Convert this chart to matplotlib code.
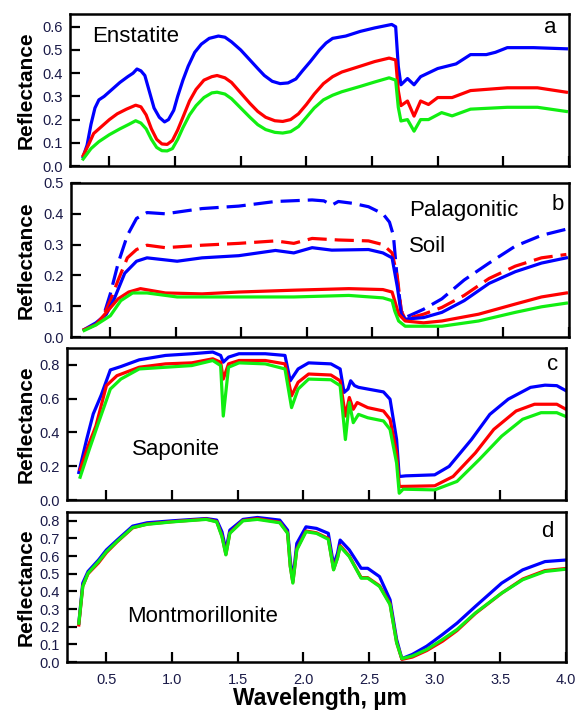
import numpy as np
import matplotlib.pyplot as plt

plt.rcParams['font.family'] = ['Liberation Sans', 'DejaVu Sans']

# ---- panel a: Enstatite ----
ens_blue_x = [0.30, 0.33, 0.36, 0.39, 0.42, 0.46, 0.52, 0.58, 0.64, 0.68, 0.71, 0.74, 0.77, 0.80, 0.84,
              0.88, 0.92, 0.95, 0.99, 1.02, 1.06, 1.10, 1.15, 1.20, 1.26, 1.33, 1.38, 1.43, 1.50, 1.57,
              1.63, 1.68, 1.74, 1.80, 1.86, 1.92, 1.97, 2.03, 2.10, 2.15, 2.20, 2.30, 2.41, 2.52, 2.65,
              2.68, 2.70, 2.72, 2.77, 2.82, 2.87, 3.00, 3.14, 3.25, 3.37, 3.44, 3.53, 3.73, 3.98]
ens_blue_y = [0.04, 0.09, 0.18, 0.25, 0.285, 0.30, 0.33, 0.36, 0.385, 0.40, 0.418, 0.41, 0.39, 0.33, 0.25,
              0.21, 0.19, 0.20, 0.24, 0.30, 0.37, 0.43, 0.49, 0.525, 0.55, 0.56, 0.555, 0.535, 0.50, 0.457,
              0.42, 0.39, 0.365, 0.355, 0.358, 0.375, 0.41, 0.45, 0.50, 0.53, 0.55, 0.56, 0.58, 0.595, 0.61,
              0.60, 0.43, 0.35, 0.377, 0.35, 0.385, 0.42, 0.44, 0.48, 0.48, 0.49, 0.51, 0.51, 0.505]
ens_red_x = [0.30, 0.34, 0.38, 0.44, 0.50, 0.56, 0.63, 0.70, 0.74, 0.78, 0.82, 0.86, 0.90, 0.94, 0.98,
             1.02, 1.06, 1.11, 1.16, 1.22, 1.28, 1.32, 1.38, 1.43, 1.50, 1.57, 1.63, 1.69, 1.76, 1.82,
             1.88, 1.94, 2.00, 2.06, 2.13, 2.20, 2.27, 2.41, 2.52, 2.63, 2.68, 2.70, 2.72, 2.77, 2.82,
             2.87, 2.93, 3.00, 3.11, 3.25, 3.53, 3.76, 3.98]
ens_red_y = [0.045, 0.09, 0.14, 0.17, 0.20, 0.225, 0.245, 0.262, 0.255, 0.22, 0.16, 0.115, 0.095, 0.093, 0.11,
             0.155, 0.21, 0.28, 0.33, 0.37, 0.385, 0.39, 0.38, 0.36, 0.315, 0.27, 0.235, 0.21, 0.195, 0.192,
             0.20, 0.225, 0.265, 0.31, 0.355, 0.385, 0.405, 0.43, 0.45, 0.465, 0.457, 0.325, 0.26, 0.28, 0.215,
             0.28, 0.265, 0.295, 0.295, 0.325, 0.337, 0.337, 0.318]
ens_green_x = [0.30, 0.36, 0.42, 0.50, 0.58, 0.65, 0.70, 0.74, 0.78, 0.82, 0.86, 0.90, 0.94, 0.98, 1.02,
               1.06, 1.11, 1.16, 1.22, 1.28, 1.32, 1.38, 1.43, 1.50, 1.57, 1.63, 1.69, 1.76, 1.82, 1.88,
               1.94, 2.00, 2.06, 2.13, 2.20, 2.27, 2.41, 2.52, 2.63, 2.68, 2.70, 2.72, 2.77, 2.82, 2.87,
               2.93, 3.03, 3.11, 3.25, 3.53, 3.76, 3.98]
ens_green_y = [0.03, 0.075, 0.105, 0.135, 0.16, 0.18, 0.195, 0.185, 0.16, 0.115, 0.08, 0.066, 0.065, 0.075, 0.115,
               0.165, 0.22, 0.26, 0.295, 0.315, 0.318, 0.31, 0.29, 0.25, 0.21, 0.178, 0.157, 0.145, 0.142, 0.148,
               0.17, 0.21, 0.25, 0.285, 0.305, 0.32, 0.343, 0.362, 0.38, 0.37, 0.253, 0.194, 0.20, 0.15, 0.20,
               0.20, 0.23, 0.216, 0.245, 0.253, 0.253, 0.235]

# ---- panel b: Palagonitic soil ----
pal_blue_dash_x = [0.46, 0.50, 0.56, 0.63, 0.70, 0.78, 0.92, 1.20, 1.48, 1.76, 2.04, 2.13, 2.19, 2.24, 2.35,
                   2.47, 2.58, 2.63, 2.66, 2.69, 2.72, 2.75, 2.89, 3.03, 3.20, 3.39, 3.59, 3.79, 3.98]
pal_blue_dash_y = [0.085, 0.14, 0.24, 0.33, 0.385, 0.404, 0.40, 0.417, 0.425, 0.44, 0.445, 0.442, 0.428, 0.44, 0.434,
                   0.423, 0.40, 0.373, 0.33, 0.185, 0.085, 0.063, 0.09, 0.124, 0.185, 0.24, 0.295, 0.33, 0.35]
pal_red_dash_x = [0.46, 0.50, 0.56, 0.63, 0.70, 0.78, 0.92, 1.20, 1.48, 1.76, 1.90, 2.04, 2.24, 2.47, 2.58,
                  2.65, 2.69, 2.72, 2.75, 2.89, 3.03, 3.20, 3.39, 3.59, 3.79, 3.98]
pal_red_dash_y = [0.08, 0.118, 0.185, 0.257, 0.284, 0.298, 0.29, 0.298, 0.304, 0.312, 0.304, 0.32, 0.315, 0.312, 0.30,
                  0.273, 0.196, 0.085, 0.058, 0.074, 0.096, 0.135, 0.19, 0.23, 0.257, 0.268]
pal_blue_x = [0.30, 0.39, 0.47, 0.53, 0.61, 0.70, 0.78, 1.01, 1.20, 1.48, 1.76, 1.90, 2.04, 2.19, 2.47,
              2.58, 2.65, 2.69, 2.72, 2.75, 2.89, 3.03, 3.20, 3.39, 3.59, 3.79, 3.98]
pal_blue_y = [0.024, 0.046, 0.074, 0.124, 0.207, 0.246, 0.257, 0.246, 0.257, 0.264, 0.281, 0.273, 0.29, 0.282, 0.284,
              0.273, 0.257, 0.163, 0.074, 0.058, 0.063, 0.08, 0.118, 0.174, 0.212, 0.24, 0.257]
pal_red_x = [0.30, 0.39, 0.47, 0.56, 0.64, 0.73, 0.92, 1.20, 1.48, 1.90, 2.32, 2.58, 2.65, 2.67, 2.70,
             2.75, 2.89, 3.03, 3.31, 3.59, 3.79, 3.98]
pal_red_y = [0.024, 0.04, 0.08, 0.124, 0.146, 0.157, 0.143, 0.14, 0.146, 0.152, 0.157, 0.154, 0.146, 0.118, 0.074,
             0.052, 0.046, 0.052, 0.074, 0.107, 0.13, 0.143]
pal_green_x = [0.30, 0.39, 0.50, 0.58, 0.67, 0.78, 1.01, 1.48, 1.90, 2.32, 2.58, 2.65, 2.67, 2.70, 2.75,
               3.03, 3.31, 3.59, 3.79, 3.98]
pal_green_y = [0.021, 0.039, 0.069, 0.118, 0.143, 0.143, 0.13, 0.13, 0.13, 0.135, 0.127, 0.118, 0.085, 0.052, 0.035,
               0.035, 0.052, 0.08, 0.098, 0.11]

# ---- panel c: Saponite ----
sap_blue_x = [0.29, 0.35, 0.40, 0.46, 0.53, 0.61, 0.75, 0.95, 1.15, 1.31, 1.37, 1.39, 1.43, 1.51, 1.71,
              1.86, 1.90, 1.96, 2.04, 2.21, 2.28, 2.31, 2.34, 2.36, 2.39, 2.42, 2.49, 2.61, 2.66, 2.71,
              2.73, 2.78, 3.00, 3.11, 3.28, 3.42, 3.56, 3.73, 3.84, 3.93, 4.00]
sap_blue_y = [0.163, 0.36, 0.51, 0.62, 0.77, 0.79, 0.83, 0.856, 0.866, 0.876, 0.856, 0.816, 0.846, 0.866, 0.866,
              0.856, 0.706, 0.776, 0.812, 0.806, 0.776, 0.637, 0.657, 0.706, 0.677, 0.667, 0.657, 0.64, 0.597, 0.358,
              0.139, 0.143, 0.149, 0.199, 0.358, 0.507, 0.597, 0.667, 0.68, 0.677, 0.647]
sap_red_x = [0.30, 0.36, 0.42, 0.50, 0.58, 0.75, 0.95, 1.15, 1.31, 1.37, 1.39, 1.43, 1.51, 1.71, 1.86,
             1.91, 1.96, 2.04, 2.21, 2.28, 2.32, 2.35, 2.38, 2.41, 2.49, 2.61, 2.66, 2.71, 2.73, 3.00,
             3.14, 3.31, 3.45, 3.62, 3.76, 3.93, 4.00]
sap_red_y = [0.179, 0.318, 0.438, 0.677, 0.736, 0.786, 0.806, 0.812, 0.836, 0.816, 0.716, 0.806, 0.826, 0.826, 0.806,
             0.617, 0.697, 0.746, 0.74, 0.706, 0.497, 0.607, 0.537, 0.577, 0.547, 0.527, 0.478, 0.279, 0.08, 0.084,
             0.139, 0.279, 0.418, 0.527, 0.567, 0.567, 0.537]
sap_green_x = [0.30, 0.37, 0.44, 0.53, 0.61, 0.75, 0.95, 1.15, 1.31, 1.37, 1.39, 1.43, 1.51, 1.71, 1.86,
               1.91, 1.96, 2.04, 2.21, 2.28, 2.32, 2.35, 2.38, 2.42, 2.49, 2.61, 2.66, 2.71, 2.73, 2.76,
               3.00, 3.17, 3.34, 3.51, 3.67, 3.81, 3.93, 4.00]
sap_green_y = [0.135, 0.30, 0.458, 0.657, 0.716, 0.776, 0.786, 0.796, 0.826, 0.796, 0.497, 0.786, 0.812, 0.806, 0.776,
               0.547, 0.657, 0.716, 0.712, 0.677, 0.358, 0.577, 0.458, 0.507, 0.487, 0.468, 0.418, 0.219, 0.04, 0.064,
               0.06, 0.11, 0.24, 0.378, 0.478, 0.517, 0.517, 0.494]

# ---- panel d: Montmorillonite ----
mon_x = [0.29, 0.32, 0.36, 0.44, 0.50, 0.58, 0.70, 0.81, 1.00, 1.26, 1.34, 1.38, 1.41, 1.44, 1.54,
         1.65, 1.82, 1.88, 1.90, 1.92, 1.95, 2.02, 2.10, 2.19, 2.23, 2.26, 2.28, 2.35, 2.44, 2.49,
         2.58, 2.66, 2.71, 2.75, 2.83, 2.94, 3.06, 3.17, 3.31, 3.51, 3.67, 3.84, 4.00]
mon_blue_y = [0.22, 0.447, 0.513, 0.578, 0.635, 0.69, 0.77, 0.789, 0.80, 0.813, 0.804, 0.738, 0.635, 0.747, 0.808,
              0.819, 0.804, 0.747, 0.578, 0.466, 0.672, 0.766, 0.757, 0.729, 0.55, 0.616, 0.691, 0.635, 0.531, 0.531,
              0.484, 0.353, 0.128, 0.019, 0.043, 0.09, 0.156, 0.22, 0.315, 0.447, 0.522, 0.569, 0.578]
mon_red_y = [0.21, 0.43, 0.50, 0.562, 0.62, 0.68, 0.76, 0.782, 0.795, 0.81, 0.796, 0.715, 0.61, 0.732, 0.802,
             0.812, 0.792, 0.732, 0.545, 0.452, 0.64, 0.742, 0.732, 0.70, 0.525, 0.592, 0.66, 0.60, 0.478, 0.478,
             0.432, 0.33, 0.112, 0.015, 0.028, 0.065, 0.118, 0.178, 0.275, 0.39, 0.47, 0.518, 0.53]
mon_green_y = [0.22, 0.428, 0.503, 0.569, 0.625, 0.682, 0.762, 0.78, 0.794, 0.808, 0.794, 0.71, 0.607, 0.729, 0.80,
               0.808, 0.789, 0.729, 0.541, 0.447, 0.635, 0.738, 0.729, 0.695, 0.522, 0.588, 0.654, 0.597, 0.475, 0.475,
               0.428, 0.325, 0.109, 0.019, 0.034, 0.071, 0.128, 0.184, 0.278, 0.39, 0.466, 0.513, 0.526]

xticks = [0.5, 1.0, 1.5, 2.0, 2.5, 3.0, 3.5, 4.0]
xticklabels = ['0.5', '1.0', '1.5', '2.0', '2.5', '3.0', '3.5', '4.0']

BLUE = '#0000ff'
RED = '#ff0000'
GREEN = '#11ee11'
LW = 2.3
TICKCOL = '#1a1a48'
NAME_FS = 16

W, H = 576.0, 711.0


def make_axes(fig, left, right, top, bottom):
    return fig.add_axes([left / W, 1 - bottom / H, (right - left) / W, (bottom - top) / H])


def style(ax, left, ylim, yticks, ylabels, show_x=False):
    ax.set_xlim(0.2, 4.0)
    ax.set_ylim(*ylim)
    ax.set_xticks(xticks)
    ax.set_yticks(yticks)
    ax.set_yticklabels(ylabels)
    if show_x:
        ax.set_xticklabels(xticklabels)
    else:
        ax.set_xticklabels([])
    ax.tick_params(direction='in', length=7, width=1.6, labelsize=10.5, labelcolor=TICKCOL)
    ax.tick_params(axis='y', pad=5)
    ax.tick_params(axis='x', pad=8)
    for s in ax.spines.values():
        s.set_linewidth(1.8)
    ax.set_ylabel('Reflectance', fontsize=15, fontweight='bold')
    ax.yaxis.set_label_coords((36 - left) / 499.0, 0.5)


fig = plt.figure(figsize=(5.76, 7.11), dpi=100)

# panel a
ax = make_axes(fig, 70, 569, 14, 166)
ax.plot(ens_blue_x, ens_blue_y, color=BLUE, lw=LW)
ax.plot(ens_red_x, ens_red_y, color=RED, lw=LW)
ax.plot(ens_green_x, ens_green_y, color=GREEN, lw=LW)
style(ax, 70, (0, 0.655), np.arange(0, 0.61, 0.1), ['0.0', '0.1', '0.2', '0.3', '0.4', '0.5', '0.6'])
ax.text(0.045, 0.85, 'Enstatite', transform=ax.transAxes, fontsize=NAME_FS, va='center')
ax.text(0.975, 0.91, 'a', transform=ax.transAxes, fontsize=16, ha='right', va='center')

# panel b
ax = make_axes(fig, 71, 569, 183, 337)
ax.plot(pal_blue_dash_x, pal_blue_dash_y, color=BLUE, lw=LW, dashes=(6, 2.5))
ax.plot(pal_red_dash_x, pal_red_dash_y, color=RED, lw=LW, dashes=(6, 2.5))
ax.plot(pal_blue_x, pal_blue_y, color=BLUE, lw=LW)
ax.plot(pal_red_x, pal_red_y, color=RED, lw=LW)
ax.plot(pal_green_x, pal_green_y, color=GREEN, lw=LW)
style(ax, 71, (0, 0.5), np.arange(0, 0.51, 0.1), ['0.0', '0.1', '0.2', '0.3', '0.4', '0.5'])
ax.text(0.678, 0.82, 'Palagonitic', transform=ax.transAxes, fontsize=NAME_FS, va='center')
ax.text(0.678, 0.59, 'Soil', transform=ax.transAxes, fontsize=NAME_FS, va='center')
ax.text(0.99, 0.86, 'b', transform=ax.transAxes, fontsize=16, ha='right', va='center')

# panel c
ax = make_axes(fig, 67, 566, 348, 500)
ax.plot(sap_blue_x, sap_blue_y, color=BLUE, lw=LW)
ax.plot(sap_red_x, sap_red_y, color=RED, lw=LW)
ax.plot(sap_green_x, sap_green_y, color=GREEN, lw=LW)
style(ax, 67, (0, 0.9), np.arange(0, 0.81, 0.2), ['0.0', '0.2', '0.4', '0.6', '0.8'])
ax.text(0.13, 0.33, 'Saponite', transform=ax.transAxes, fontsize=NAME_FS, va='center')
ax.text(0.985, 0.89, 'c', transform=ax.transAxes, fontsize=16, ha='right', va='center')

# panel d
ax = make_axes(fig, 67, 566, 512, 662)
ax.plot(mon_x, mon_blue_y, color=BLUE, lw=LW)
ax.plot(mon_x, mon_red_y, color=RED, lw=LW)
ax.plot(mon_x, mon_green_y, color=GREEN, lw=LW)
style(ax, 67, (0, 0.85), np.arange(0, 0.81, 0.1),
      ['0.0', '0.1', '0.2', '0.3', '0.4', '0.5', '0.6', '0.7', '0.8'], show_x=True)
ax.text(0.12, 0.30, 'Montmorillonite', transform=ax.transAxes, fontsize=NAME_FS, va='center')
ax.text(0.975, 0.87, 'd', transform=ax.transAxes, fontsize=16, ha='right', va='center')

fig.text(320 / W, 1 - 698 / H, 'Wavelength, \u00b5m', fontsize=16.5, fontweight='bold',
         ha='center', va='center')

plt.savefig('out.png', dpi=100)
